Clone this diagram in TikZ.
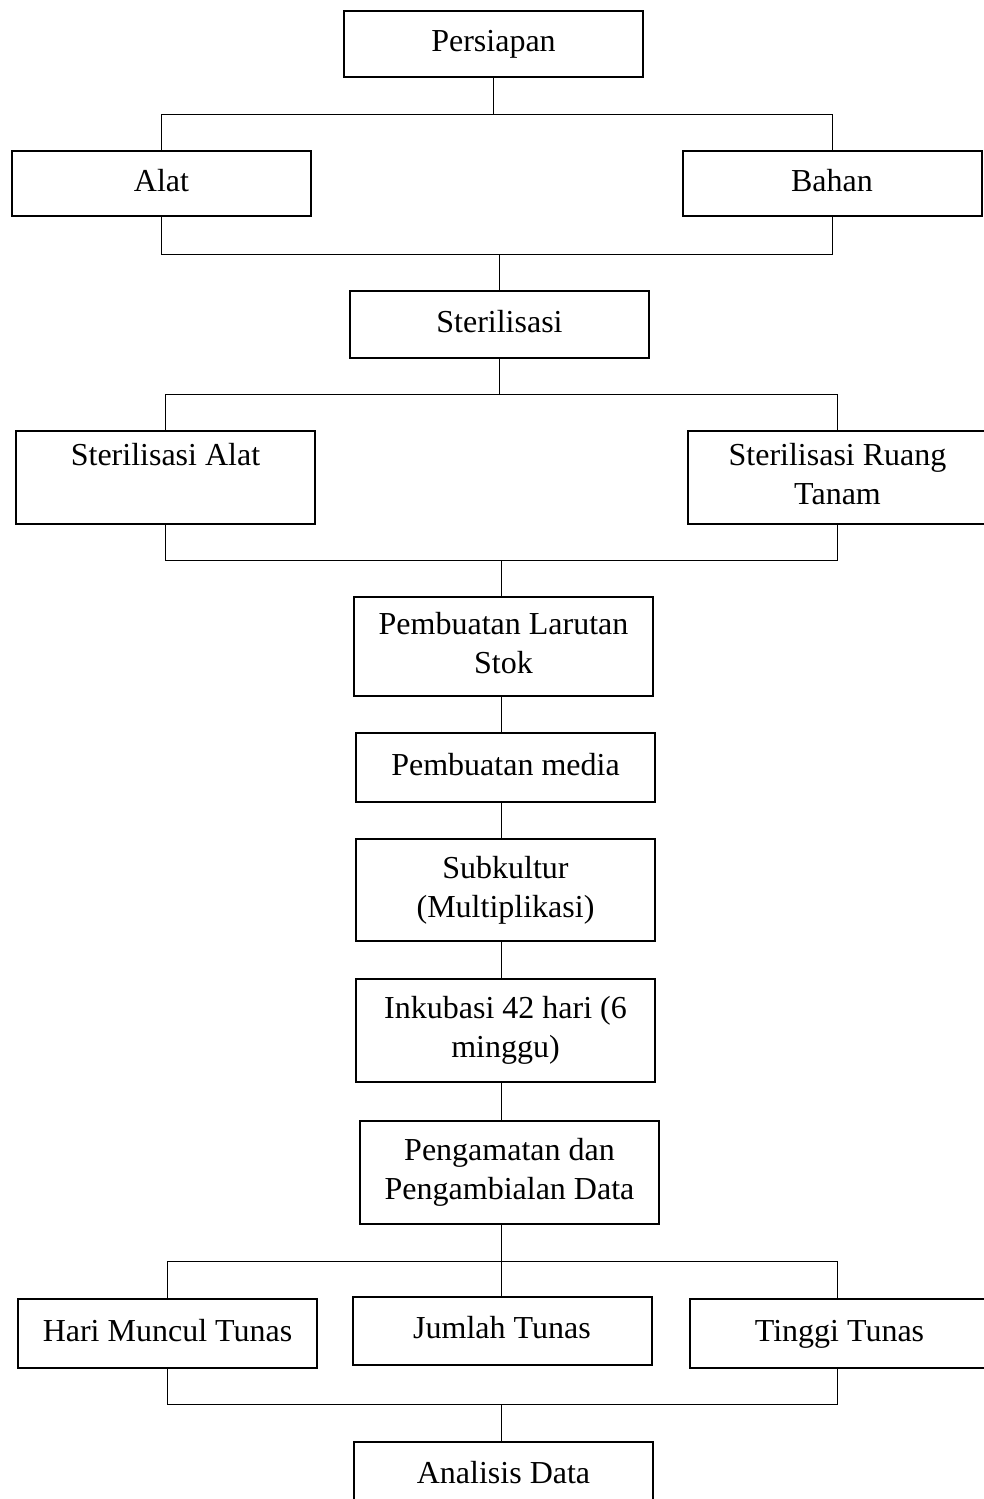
\documentclass[tikz,border=0pt]{standalone}
\usepackage{fontspec}
\setmainfont{Liberation Serif}
\begin{document}
\begin{tikzpicture}[x=0.5pt,y=-0.5pt,
  box/.style={draw, line width=1pt, minimum width=149.5pt, inner sep=0pt, align=center,
    font=\fontsize{16}{19.5}\selectfont},
  conn/.style={line width=0.5pt}]
\useasboundingbox (0,0) rectangle (984,1499);
% boxes
\node[box, minimum height=33pt]   (persiapan) at (493.5,44)   {\strut Persiapan};
\node[box, minimum height=32.5pt] (alat)      at (161.5,183.5) {\strut Alat};
\node[box, minimum height=32.5pt] (bahan)     at (832,183.5)   {\strut Bahan};
\node[box, minimum height=33.5pt] (steril)    at (499.5,324.5) {\strut Sterilisasi};
\node[box, minimum height=46.5pt] (salat)     at (165.5,477.5) {\strut Sterilisasi Alat\\\strut};
\node[box, minimum height=46.5pt] (sruang)    at (837.5,477.5) {\strut Sterilisasi Ruang\\\strut Tanam};
\node[box, minimum height=49.5pt] (larutan)   at (503.5,646.5) {\strut Pembuatan Larutan\\\strut Stok};
\node[box, minimum height=34.5pt] (media)     at (505.5,767.5) {\strut Pembuatan media};
\node[box, minimum height=51pt]   (subkultur) at (505.5,890)   {\strut Subkultur\\\strut (Multiplikasi)};
\node[box, minimum height=51.5pt] (inkubasi)  at (505.5,1030.5) {\strut Inkubasi 42 hari (6\\\strut minggu)};
\node[box, minimum height=51.5pt] (pengamatan) at (509.5,1172.5) {\strut Pengamatan dan\\\strut Pengambialan Data};
\node[box, minimum height=34.5pt] (hari)      at (167.5,1333.5) {\strut Hari Muncul Tunas};
\node[box, minimum height=34pt]   (jumlah)    at (502,1331)     {\strut Jumlah Tunas};
\node[box, minimum height=34.5pt] (tinggi)    at (839.5,1333.5) {\strut Tinggi Tunas};
\node[box, minimum height=34pt]   (analisis)  at (503.5,1476)   {\strut Analisis Data};
% helper coordinates
\coordinate (h1) at (0,114);
\coordinate (h2) at (0,254);
\coordinate (h3) at (0,394);
\coordinate (h4) at (0,560);
\coordinate (h5) at (0,1261);
\coordinate (h6) at (0,1404);
\coordinate (sp) at (501.5,0);
\coordinate (rc) at (837,0);
% connectors
\draw[conn] (persiapan.south) -- (persiapan.south |- h1);
\draw[conn] (alat.north) -- (alat.north |- h1) -- (bahan.north |- h1) -- (bahan.north);
\draw[conn] (alat.south) -- (alat.south |- h2) -- (bahan.south |- h2) -- (bahan.south);
\draw[conn] (steril.north) -- (steril.north |- h2);
\draw[conn] (steril.south) -- (steril.south |- h3);
\draw[conn] (salat.north) -- (salat.north |- h3) -- (sruang.north |- h3) -- (sruang.north);
\draw[conn] (salat.south) -- (salat.south |- h4) -- (sruang.south |- h4) -- (sruang.south);
\draw[conn] (sp |- h4) -- (sp |- larutan.north);
\draw[conn] (sp |- larutan.south) -- (sp |- media.north);
\draw[conn] (sp |- media.south) -- (sp |- subkultur.north);
\draw[conn] (sp |- subkultur.south) -- (sp |- inkubasi.north);
\draw[conn] (sp |- inkubasi.south) -- (sp |- pengamatan.north);
\draw[conn] (sp |- pengamatan.south) -- (sp |- jumlah.north);
\draw[conn] (hari.north) -- (hari.north |- h5) -- (rc |- h5) -- (rc |- tinggi.north);
\draw[conn] (hari.south) -- (hari.south |- h6) -- (rc |- h6) -- (rc |- tinggi.south);
\draw[conn] (sp |- h6) -- (sp |- analisis.north);
\end{tikzpicture}
\end{document}
